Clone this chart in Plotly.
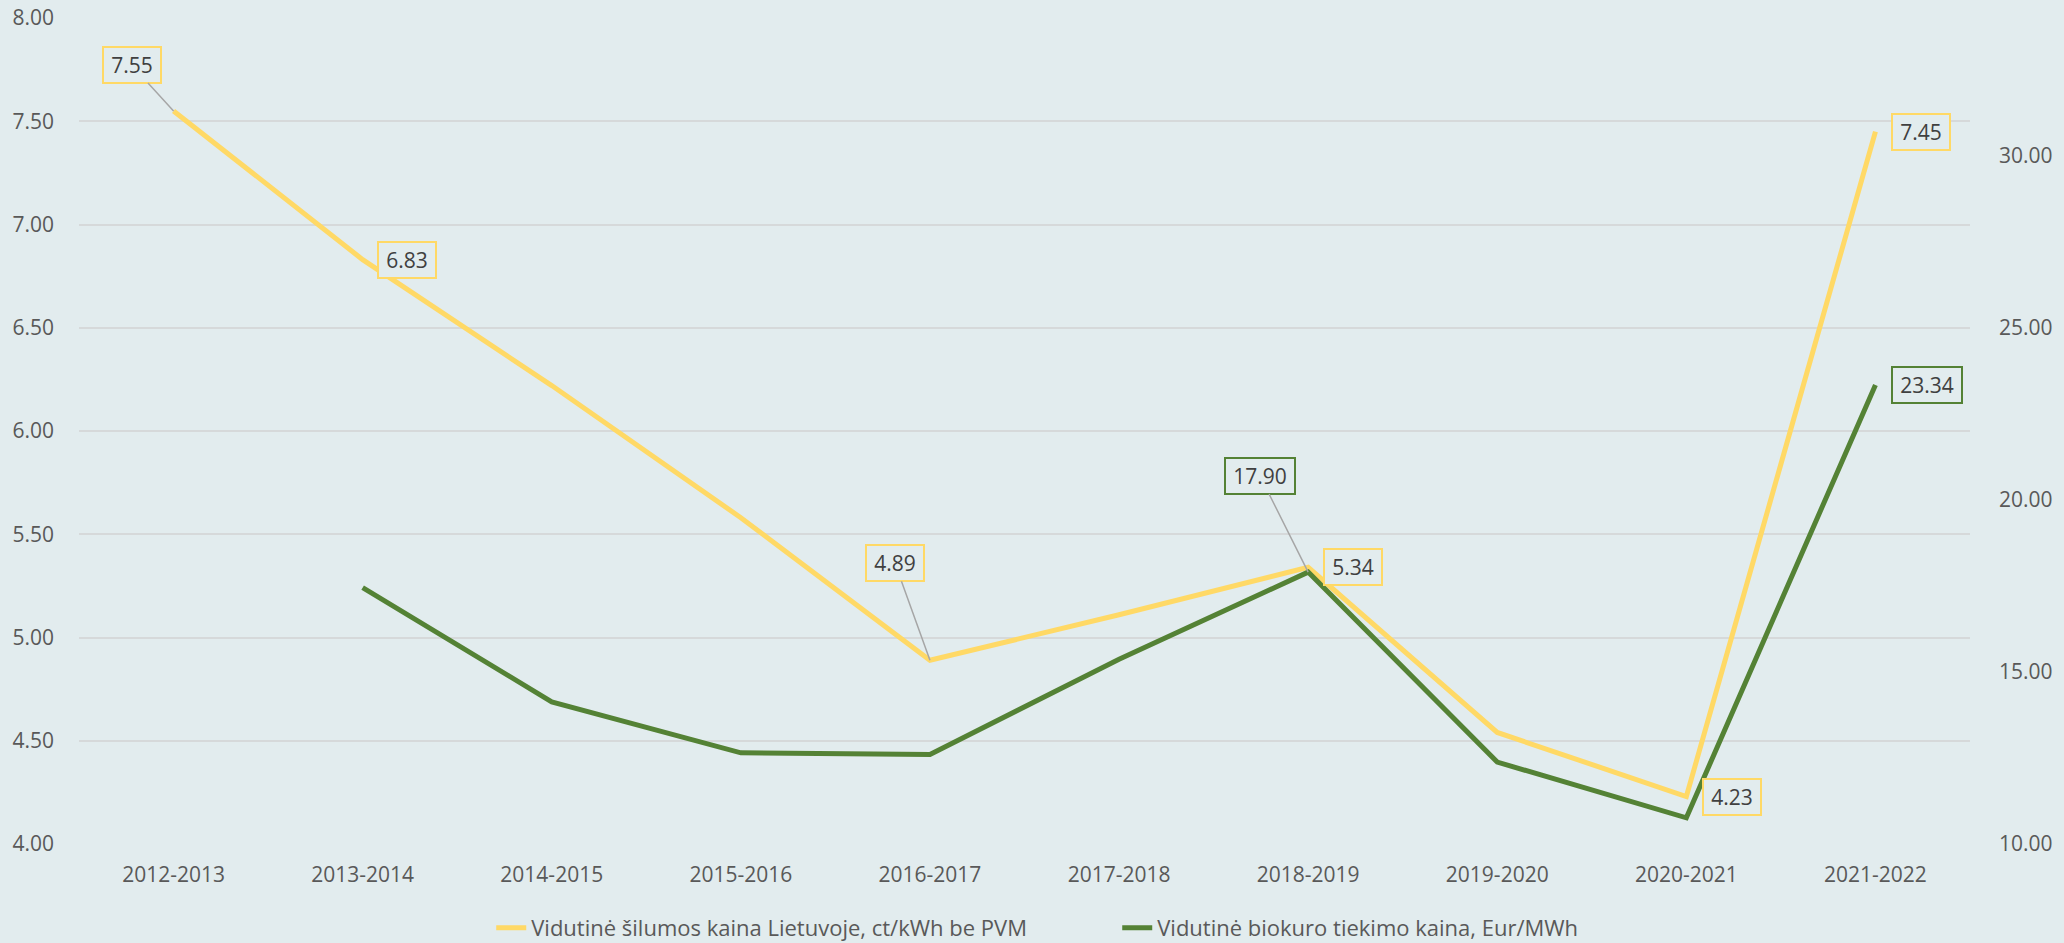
import plotly.graph_objects as go

categories = ["2012-2013", "2013-2014", "2014-2015", "2015-2016", "2016-2017",
              "2017-2018", "2018-2019", "2019-2020", "2020-2021", "2021-2022"]
heat_price = [7.55, 6.83, 6.22, 5.58, 4.89, 5.11, 5.34, 4.54, 4.23, 7.45]
biofuel_price = [None, 17.45, 14.13, 12.65, 12.60, 15.37, 17.90, 12.38, 10.76, 23.34]

heat_name = "Vidutinė šilumos kaina Lietuvoje, ct/kWh be PVM"
bio_name = "Vidutinė biokuro tiekimo kaina, Eur/MWh"

left_ticks = [4.0, 4.5, 5.0, 5.5, 6.0, 6.5, 7.0, 7.5, 8.0]
right_ticks = [10.0, 15.0, 20.0, 25.0, 30.0]

# labelled points: category index -> label offset in px, leader line?
heat_labels = {0: (-42, -46, True), 1: (44, 0, False), 4: (-35, -97, True),
               6: (45, 0, False), 8: (46, 0, False), 9: (46, 0, False)}
bio_labels = {6: (-48, -96, True), 9: (52, 0, False)}

YELLOW = "#FFD966"
GREEN = "#548235"
BG = "#E2ECEE"
FONT = "Open Sans, Noto Sans, DejaVu Sans, sans-serif"
TXT = "#404040"
AX = "#595959"

fig = go.Figure()
fig.add_trace(go.Scatter(x=categories, y=heat_price, name=heat_name, mode="lines",
                         line=dict(color=YELLOW, width=5), yaxis="y"))
fig.add_trace(go.Scatter(x=categories, y=biofuel_price, name=bio_name, mode="lines",
                         line=dict(color=GREEN, width=5), yaxis="y2"))

annotations = []
def add_labels(values, labels, yref, color):
    for i, (dx, dy, leader) in labels.items():
        v = values[i]
        common = dict(x=categories[i], y=v, xref="x", yref=yref, text=f"{v:.2f}",
                      font=dict(family=FONT, size=21, color=TXT),
                      bgcolor=BG, bordercolor=color, borderwidth=2, borderpad=0,
                      width=56 if v < 10 else 68, height=34)
        if leader:
            annotations.append(dict(**common, showarrow=True, ax=dx, ay=dy,
                                    arrowhead=0, arrowwidth=1.5, arrowcolor="#A6A6A6",
                                    standoff=0, startstandoff=0))
        else:
            annotations.append(dict(**common, showarrow=False, xshift=dx, yshift=-dy))

add_labels(heat_price, heat_labels, "y", YELLOW)
add_labels(biofuel_price, bio_labels, "y2", GREEN)

fig.update_layout(
    width=2064, height=943,
    margin=dict(l=79, r=94, t=18, b=99, autoexpand=False),
    paper_bgcolor=BG, plot_bgcolor=BG,
    font=dict(family=FONT, size=21, color=AX),
    showlegend=True,
    legend=dict(orientation="h", x=0.238, xanchor="left", xref="container",
                y=0.016, yanchor="middle", yref="container",
                font=dict(family=FONT, size=22, color=AX),
                itemwidth=30, entrywidth=581, tracegroupgap=0,
                bgcolor="rgba(0,0,0,0)"),
    xaxis=dict(type="category", range=[-0.5, 9.5], showgrid=False, zeroline=False,
               showline=False, ticks="", ticklabelstandoff=16, automargin=False,
               tickfont=dict(size=21, color=AX)),
    yaxis=dict(range=[4, 8], tickvals=left_ticks, tickformat=".2f", showgrid=True,
               gridcolor="#D6D9DA", gridwidth=1.5, zeroline=False, showline=False,
               ticks="", ticklabelstandoff=24, automargin=False,
               tickfont=dict(size=21, color=AX)),
    yaxis2=dict(range=[10, 34], tickvals=right_ticks, tickformat=".2f", overlaying="y",
                side="right", showgrid=False, zeroline=False, showline=False,
                ticks="", ticklabelstandoff=28, automargin=False,
                tickfont=dict(size=21, color=AX)),
    annotations=annotations,
)

fig.write_html(
    "out.html",
    config={"displayModeBar": False},
    post_script=("document.body.style.margin='0';"
                 "document.body.style.background='" + BG + "';"
                 "document.documentElement.style.overflow='hidden';"),
)
